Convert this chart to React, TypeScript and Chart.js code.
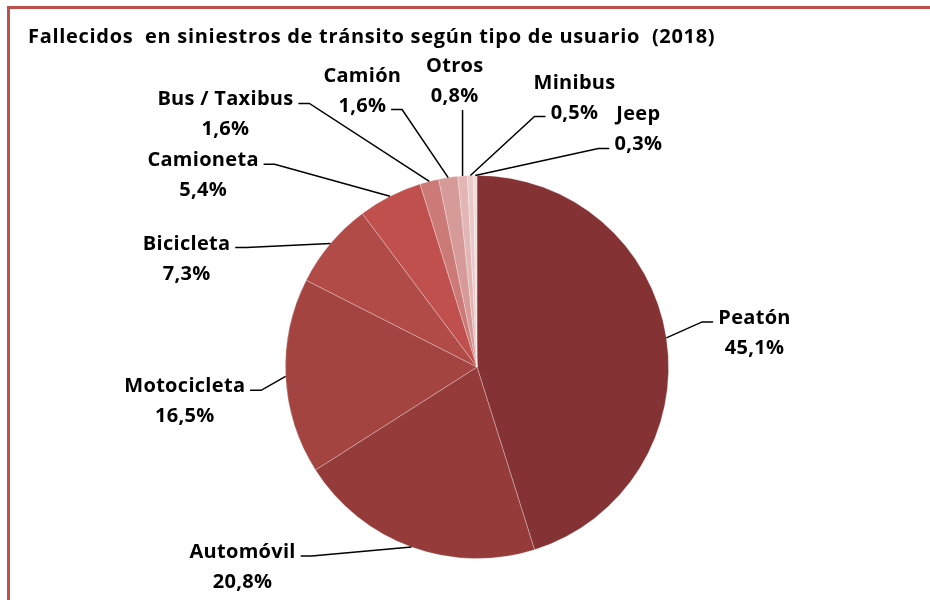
import React, { useEffect, useRef } from "react";
import { Chart, registerables } from "chart.js";

Chart.register(...registerables);

const TITLE = "Fallecidos  en siniestros de tránsito según tipo de usuario  (2018)";
const CATEGORIES = [
  "Peatón",
  "Automóvil",
  "Motocicleta",
  "Bicicleta",
  "Camioneta",
  "Bus / Taxibus",
  "Camión",
  "Otros",
  "Minibus",
  "Jeep",
];
const PERCENTS = [45.1, 20.8, 16.5, 7.3, 5.4, 1.6, 1.6, 0.8, 0.5, 0.3];
const COLORS = [
  "#843234",
  "#953c3b",
  "#a34441",
  "#b04b48",
  "#c0504d",
  "#cb7a78",
  "#d69a98",
  "#e1b6b5",
  "#eacac9",
  "#f2dcdb",
];

// Label layout: offset of the label (centre x, first baseline) from the slice's outer mid-point
const LABEL_OFFSETS: [number, number][] = [
  [88, -14],
  [-169, 11],
  [-101, 16],
  [-144, 6],
  [-187, -30],
  [-204, -76],
  [-86, -96],
  [-8, -104],
  [104, -87],
  [163, -55],
];
// Where the leader line attaches to the label
const LEADER_ATTACH: { line: number; side: "left" | "right" | "bottom" }[] = [
  { line: 1, side: "left" },
  { line: 1, side: "right" },
  { line: 1, side: "right" },
  { line: 1, side: "right" },
  { line: 1, side: "right" },
  { line: 1, side: "right" },
  { line: 2, side: "right" },
  { line: 2, side: "bottom" },
  { line: 2, side: "left" },
  { line: 2, side: "left" },
];

const FONT_FAMILY = "'Open Sans', Lato, 'Liberation Sans', sans-serif";
const LABEL_FONT = `bold 20px ${FONT_FAMILY}`;
const LABEL_SPACING = 0.3;
const TITLE_FONT = `bold 20px ${FONT_FAMILY}`;
const TITLE_WIDTH = 687;
const LINE_GAP = 30;

const fmt = (v: number) => v.toFixed(1).replace(".", ",") + "%";

const decorPlugin = {
  id: "decor",
  beforeDraw(chart: any) {
    const ctx = chart.ctx;
    ctx.save();
    ctx.fillStyle = "#ffffff";
    ctx.fillRect(0, 0, chart.width, chart.height);
    ctx.fillStyle = "#c0504d";
    ctx.fillRect(7, 6, chart.width - 7, 3);
    ctx.fillRect(7, 6, 3, chart.height - 6);
    ctx.fillStyle = "#000000";
    ctx.font = TITLE_FONT;
    ctx.textAlign = "left";
    ctx.textBaseline = "alphabetic";
    ctx.letterSpacing = "0px";
    const w = ctx.measureText(TITLE).width;
    const sp = (TITLE_WIDTH - w) / TITLE.length;
    ctx.letterSpacing = sp.toFixed(2) + "px";
    ctx.fillText(TITLE, 28, 43);
    ctx.restore();
  },
  afterDraw(chart: any) {
    const ctx = chart.ctx;
    const meta = chart.getDatasetMeta(0);
    ctx.save();
    ctx.font = LABEL_FONT;
    ctx.letterSpacing = LABEL_SPACING + "px";
    ctx.fillStyle = "#000000";
    ctx.strokeStyle = "#000000";
    ctx.lineWidth = 1.5;
    ctx.textAlign = "center";
    ctx.textBaseline = "alphabetic";
    meta.data.forEach((arc: any, i: number) => {
      const p = arc.getProps(["x", "y", "startAngle", "endAngle", "outerRadius"], true);
      const mid = (p.startAngle + p.endAngle) / 2;
      const ax = p.x + Math.cos(mid) * p.outerRadius;
      const ay = p.y + Math.sin(mid) * p.outerRadius;
      const cx = ax + LABEL_OFFSETS[i][0];
      const by1 = ay + LABEL_OFFSETS[i][1];
      const by2 = by1 + LINE_GAP;
      const l1 = CATEGORIES[i];
      const l2 = fmt(PERCENTS[i]);
      ctx.fillText(l1, cx + LABEL_SPACING / 2, by1);
      ctx.fillText(l2, cx + LABEL_SPACING / 2, by2);

      const att = LEADER_ATTACH[i];
      const txt = att.line === 1 ? l1 : l2;
      const by = att.line === 1 ? by1 : by2;
      const w = ctx.measureText(txt).width;
      ctx.beginPath();
      if (att.side === "bottom") {
        ctx.moveTo(ax, by + 8);
        ctx.lineTo(ax, ay);
      } else {
        const y = by - 2;
        const dir = att.side === "left" ? -1 : 1;
        const edgeX = cx + dir * (w / 2 + 5);
        const elbowX = edgeX + dir * 11;
        ctx.moveTo(edgeX, y);
        ctx.lineTo(elbowX, y);
        ctx.lineTo(ax, ay);
      }
      ctx.stroke();
    });
    ctx.restore();
  },
};

export default function App() {
  const ref = useRef<HTMLCanvasElement | null>(null);
  useEffect(() => {
    if (!ref.current) return;
    const chart = new Chart(ref.current, {
      type: "pie",
      data: {
        labels: CATEGORIES,
        datasets: [
          {
            data: PERCENTS,
            backgroundColor: COLORS,
            borderColor: "rgba(255,255,255,0.35)",
            borderWidth: 0.8,
          },
        ],
      },
      options: {
        responsive: false,
        animation: false,
        layout: { padding: { top: 175, bottom: 41, left: 285, right: 261 } },
        plugins: {
          legend: { display: false },
          title: { display: false },
          tooltip: { enabled: false },
        },
      },
      plugins: [decorPlugin],
    });
    return () => chart.destroy();
  }, []);
  return (
    <div style={{ position: "fixed", left: 0, top: 0, width: 930, height: 600, background: "#fff" }}>
      <canvas ref={ref} width={930} height={600} style={{ display: "block" }} />
    </div>
  );
}
